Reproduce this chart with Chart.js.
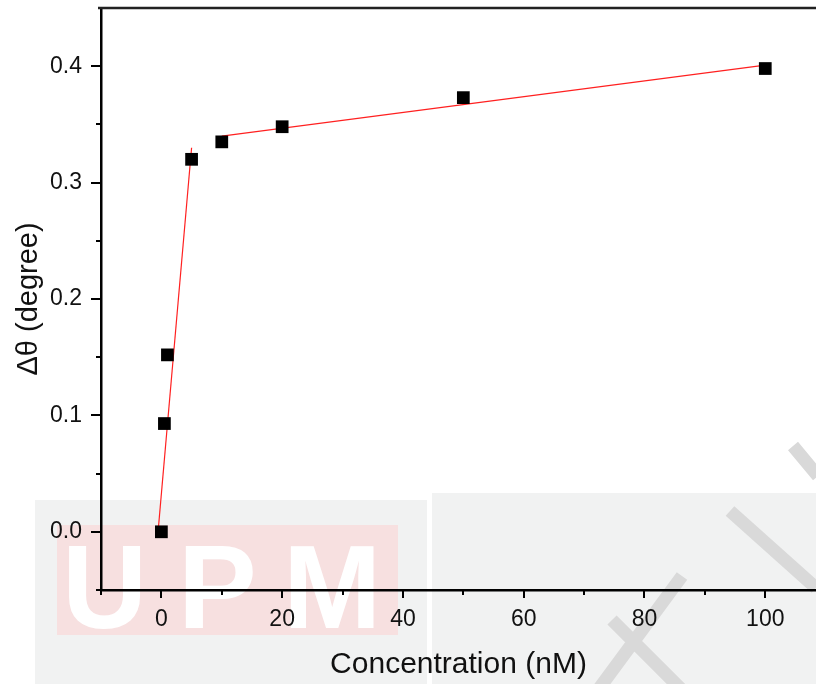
<!DOCTYPE html>
<html>
<head>
<meta charset="utf-8">
<script src="https://cdn.jsdelivr.net/npm/chart.js@4"></script>
<style>
  html, body { margin: 0; padding: 0; background: #fff; }
  #wrap { width: 816px; height: 684px; }
</style>
</head>
<body>
<div id="wrap"><canvas id="chart" width="816" height="684"></canvas></div>
<script>
// measured points
const concentration = [0, 0.5, 1, 5, 10, 20, 50, 100];
const deltaTheta = [0.000, 0.093, 0.152, 0.320, 0.335, 0.348, 0.373, 0.398];

// two linear fit segments (end points)
const fitLowX = [-0.5, 5];
const fitLowY = [0.003, 0.330];
const fitHighX = [10, 100];
const fitHighY = [0.340, 0.401];

const xMajor = [0, 20, 40, 60, 80, 100];
const xMinor = [-10, 10, 30, 50, 70, 90];
const yMajor = [0.0, 0.1, 0.2, 0.3, 0.4];
const yMinor = [-0.05, 0.05, 0.15, 0.25, 0.35, 0.45];

const toPoints = (xs, ys) => xs.map((x, i) => ({ x: x, y: ys[i] }));

// faint watermark behind the plot
const watermark = {
    id: 'watermark',
    beforeDraw(chart) {
        const c = chart.ctx;
        c.save();
        c.fillStyle = '#f1f2f2';
        c.fillRect(35, 500, 392, 184);
        c.fillRect(432, 493, 384, 191);
        c.fillStyle = '#f7e0e0';
        c.fillRect(57, 525, 341, 110);
        c.fillStyle = '#ffffff';
        c.font = 'bold 118px "Liberation Sans", Arial, sans-serif';
        c.textBaseline = 'alphabetic';
        c.fillText('U', 62, 628);
        c.fillText('P', 178, 628);
        c.fillText('M', 283, 628);
        c.strokeStyle = '#d9d9d9';
        c.lineWidth = 13;
        c.beginPath();
        c.moveTo(793, 446); c.lineTo(818, 476);
        c.moveTo(730, 511); c.lineTo(816, 588);
        c.moveTo(682, 576); c.lineTo(598, 690);
        c.moveTo(612, 620); c.lineTo(682, 690);
        c.stroke();
        c.restore();
    }
};

// Origin-style frame: top line plus outward major/minor ticks
const frame = {
    id: 'frame',
    afterDatasetsDraw(chart) {
        const c = chart.ctx;
        const a = chart.chartArea;
        const xs = chart.scales.x, ys = chart.scales.y;
        c.save();
        c.strokeStyle = '#222';
        c.lineWidth = 2.5;
        c.beginPath();
        c.moveTo(a.left - 3, a.top);
        c.lineTo(a.right, a.top);
        c.stroke();
        c.strokeStyle = '#000';
        c.lineWidth = 2;
        c.beginPath();
        xMajor.concat(xMinor).forEach(v => {
            const px = Math.round(xs.getPixelForValue(v));
            const len = xMajor.includes(v) ? 8 : 5;
            c.moveTo(px, a.bottom);
            c.lineTo(px, a.bottom + len);
        });
        yMajor.concat(yMinor).forEach(v => {
            const py = Math.round(ys.getPixelForValue(v));
            if (py < a.top + 2) return;
            const len = yMajor.includes(v) ? 10 : 5;
            c.moveTo(a.left, py);
            c.lineTo(a.left - len, py);
        });
        c.stroke();
        c.restore();
    }
};

const font = '"Liberation Sans", Arial, sans-serif';

new Chart(document.getElementById('chart').getContext('2d'), {
    type: 'scatter',
    data: {
        datasets: [
            {
                label: 'data',
                data: toPoints(concentration, deltaTheta),
                pointStyle: 'rect',
                pointRadius: 9,
                backgroundColor: '#000',
                borderColor: '#000',
                borderWidth: 0,
                order: 1
            },
            {
                label: 'fit 1',
                type: 'line',
                data: toPoints(fitLowX, fitLowY),
                borderColor: '#ff2020',
                borderWidth: 1.2,
                pointRadius: 0,
                fill: false,
                order: 2
            },
            {
                label: 'fit 2',
                type: 'line',
                data: toPoints(fitHighX, fitHighY),
                borderColor: '#ff2020',
                borderWidth: 1.2,
                pointRadius: 0,
                fill: false,
                order: 2
            }
        ]
    },
    options: {
        responsive: false,
        animation: false,
        layout: { autoPadding: false, padding: { top: 8, right: 0, left: 0, bottom: 0 } },
        plugins: {
            legend: { display: false },
            tooltip: { enabled: false }
        },
        scales: {
            x: {
                type: 'linear',
                min: -10,
                max: 108.4,
                afterBuildTicks(s) { s.ticks = xMajor.map(v => ({ value: v })); },
                afterFit(s) {
                    s.height = 94;
                    s.paddingLeft = 0;
                    s.paddingRight = 0;
                    s.paddingTop = 0;
                    s.paddingBottom = 0;
                },
                grid: { display: false },
                border: { display: true, color: '#000', width: 2.5 },
                ticks: {
                    autoSkip: false,
                    maxRotation: 0,
                    padding: 8,
                    color: '#111',
                    font: { family: font, size: 23 },
                    callback: v => String(v)
                },
                title: {
                    display: true,
                    text: 'Concentration (nM)',
                    color: '#111',
                    font: { family: font, size: 30 },
                    padding: { top: 0, bottom: 1 }
                }
            },
            y: {
                type: 'linear',
                min: -0.05,
                max: 0.45,
                afterBuildTicks(s) { s.ticks = yMajor.map(v => ({ value: v })); },
                afterFit(s) {
                    s.width = 101;
                    s.paddingTop = 0;
                    s.paddingBottom = 0;
                    s.paddingLeft = 0;
                    s.paddingRight = 0;
                },
                grid: { display: false },
                border: { display: true, color: '#000', width: 2.5 },
                ticks: {
                    autoSkip: false,
                    padding: 11,
                    color: '#111',
                    font: { family: font, size: 23 },
                    callback: v => v.toFixed(1)
                },
                title: {
                    display: true,
                    text: 'Δθ (degree)',
                    color: '#111',
                    font: { family: font, size: 29 },
                    padding: { top: 12, bottom: 0 }
                }
            }
        }
    },
    plugins: [watermark, frame]
});
</script>
</body>
</html>
